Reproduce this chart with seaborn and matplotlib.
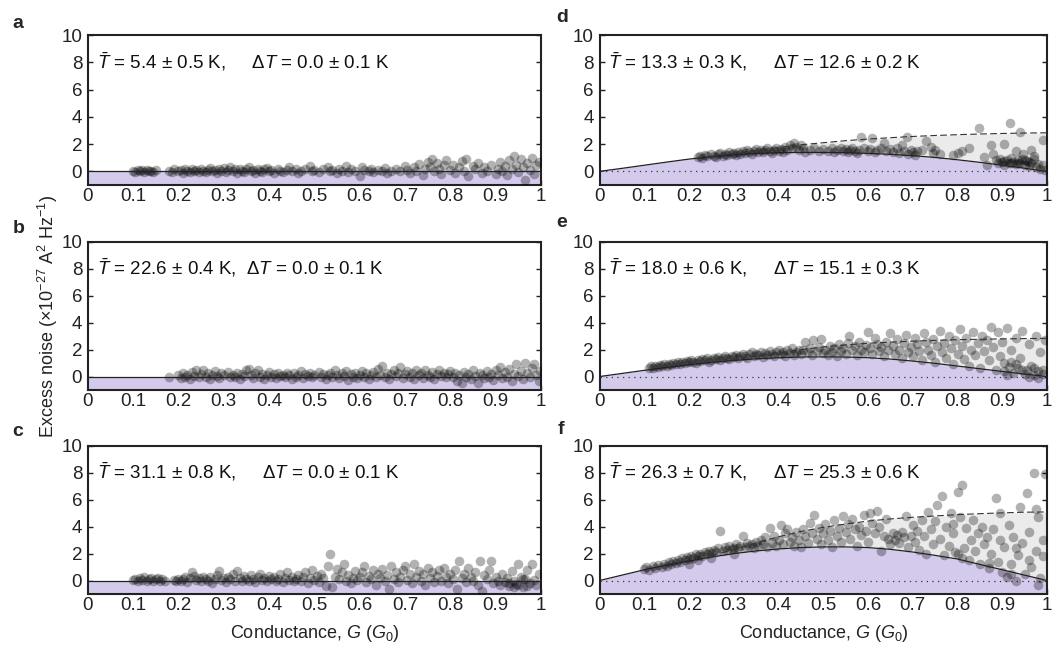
import matplotlib
matplotlib.use('Agg')
import numpy as np
import pandas as pd
import matplotlib.pyplot as plt
import seaborn as sns

# panel texts
panel_letters = ['a', 'b', 'c', 'd', 'e', 'f']
t_mean = ['5.4 ± 0.5', '22.6 ± 0.4', '31.1 ± 0.8', '13.3 ± 0.3', '18.0 ± 0.6', '26.3 ± 0.7']
t_delta = ['0.0 ± 0.1', '0.0 ± 0.1', '0.0 ± 0.1', '12.6 ± 0.2', '15.1 ± 0.3', '25.3 ± 0.6']
gap_spaces = [5, 2, 5, 5, 5, 5]

x_ticks = [0, 0.1, 0.2, 0.3, 0.4, 0.5, 0.6, 0.7, 0.8, 0.9, 1]
x_ticklabels = ['0', '0.1', '0.2', '0.3', '0.4', '0.5', '0.6', '0.7', '0.8', '0.9', '1']
y_ticks = [0, 2, 4, 6, 8, 10]

# model curves
g_flat = [0, 1]
flat_noise = [0, 0]
g_curve = [0, 0.05, 0.1, 0.15, 0.2, 0.25, 0.3, 0.35, 0.4, 0.45, 0.5,
           0.55, 0.6, 0.65, 0.7, 0.75, 0.8, 0.85, 0.9, 0.95, 1.0]
d_solid = [0, 0.22, 0.45, 0.68, 0.9, 1.08, 1.22, 1.32, 1.37, 1.39, 1.39,
           1.37, 1.32, 1.25, 1.15, 1.02, 0.85, 0.66, 0.45, 0.23, 0.0]
e_solid = [0, 0.23, 0.46, 0.68, 0.88, 1.05, 1.2, 1.32, 1.4, 1.45, 1.46,
           1.45, 1.4, 1.3, 1.15, 0.98, 0.78, 0.58, 0.38, 0.18, 0.0]
f_solid = [0, 0.4, 0.8, 1.15, 1.45, 1.75, 2.0, 2.2, 2.35, 2.45, 2.5,
           2.5, 2.45, 2.32, 2.12, 1.87, 1.6, 1.2, 0.8, 0.4, 0.0]
g_dash = [0.25, 0.3, 0.35, 0.4, 0.45, 0.5, 0.55, 0.6, 0.65, 0.7, 0.75, 0.8, 0.85, 0.9, 0.95, 1.0]
d_dash = [1.08, 1.3, 1.53, 1.75, 1.95, 2.1, 2.25, 2.37, 2.47, 2.56, 2.63, 2.69, 2.74, 2.78, 2.81, 2.83]
e_dash = [1.05, 1.25, 1.5, 1.75, 2.0, 2.2, 2.35, 2.47, 2.56, 2.63, 2.69, 2.74, 2.77, 2.8, 2.82, 2.84]
f_dash = [1.85, 2.3, 2.8, 3.25, 3.65, 3.95, 4.2, 4.42, 4.58, 4.7, 4.8, 4.9, 4.97, 5.03, 5.08, 5.1]

# measured points (conductance, excess noise)
a_pts = [(0.10, 0.05), (0.105, -0.05), (0.11, 0.1), (0.115, 0.0), (0.12, 0.08), (0.125, -0.02), (0.13, 0.12),
         (0.135, 0.02), (0.14, 0.06), (0.145, -0.05), (0.15, 0.1), (0.18, 0.05), (0.185, -0.08), (0.19, 0.15),
         (0.2, 0.0), (0.205, 0.1), (0.21, -0.1), (0.215, 0.2), (0.22, 0.05), (0.225, -0.05), (0.23, 0.15),
         (0.235, 0.02), (0.24, 0.1), (0.245, -0.08), (0.25, 0.2), (0.255, 0.05), (0.26, -0.02), (0.265, 0.12),
         (0.27, 0.25), (0.275, 0.0), (0.28, 0.1), (0.285, -0.1), (0.29, 0.18), (0.295, 0.05), (0.3, 0.25),
         (0.305, -0.05), (0.31, 0.1), (0.315, 0.3), (0.32, 0.0), (0.325, 0.15), (0.33, -0.1), (0.335, 0.2),
         (0.34, 0.05), (0.345, -0.05), (0.35, 0.15), (0.355, 0.3), (0.36, 0.0), (0.365, 0.1), (0.37, -0.15),
         (0.375, 0.2), (0.38, 0.05), (0.385, -0.05), (0.39, 0.15), (0.395, 0.25), (0.4, 0.0), (0.405, 0.1),
         (0.41, -0.1), (0.42, 0.2), (0.425, 0.05), (0.43, -0.05), (0.44, 0.12), (0.445, 0.3), (0.45, 0.0),
         (0.46, 0.15), (0.465, -0.1), (0.47, 0.05), (0.48, 0.2), (0.49, 0.4), (0.495, 0.0), (0.5, 0.1),
         (0.51, -0.05), (0.52, 0.15), (0.53, 0.35), (0.535, 0.0), (0.54, 0.1), (0.55, -0.1), (0.555, 0.2),
         (0.56, 0.05), (0.57, 0.4), (0.575, -0.05), (0.58, 0.15), (0.59, 0.0), (0.6, -0.35), (0.605, 0.3),
         (0.61, 0.1), (0.62, 0.0), (0.625, 0.2), (0.63, -0.05), (0.64, 0.1), (0.65, 0.0), (0.655, 0.25),
         (0.66, -0.1), (0.67, 0.05), (0.68, 0.15), (0.69, 0.0), (0.7, 0.4), (0.705, 0.1), (0.71, -0.15),
         (0.72, 0.3), (0.725, 0.0), (0.73, 0.55), (0.74, -0.25), (0.745, 0.15), (0.75, 0.7), (0.755, 0.3),
         (0.76, 0.9), (0.765, 0.0), (0.77, 0.6), (0.775, 0.2), (0.78, -0.2), (0.785, 0.45), (0.79, 0.8),
         (0.8, 0.1), (0.805, 0.5), (0.81, -0.1), (0.82, 0.3), (0.825, 0.75), (0.83, 0.0), (0.835, 0.9),
         (0.84, -0.35), (0.85, 0.4), (0.855, 0.15), (0.86, 0.6), (0.87, -0.1), (0.875, 0.3), (0.88, 0.05),
         (0.89, 0.5), (0.9, -0.2), (0.905, 0.2), (0.91, 0.7), (0.915, 0.0), (0.92, 0.4), (0.925, -0.3),
         (0.93, 0.8), (0.935, 0.15), (0.94, 1.1), (0.945, 0.5), (0.95, -0.05), (0.955, 0.9), (0.96, 0.3),
         (0.965, -0.65), (0.97, 0.6), (0.975, 0.1), (0.98, 1.0), (0.985, -0.2), (0.99, 0.45), (0.995, 0.7)]

b_pts = [(0.18, 0.0), (0.2, 0.1), (0.205, -0.1), (0.21, 0.25), (0.215, 0.0), (0.22, 0.15), (0.225, -0.2),
         (0.23, 0.35), (0.235, 0.05), (0.24, 0.5), (0.245, -0.05), (0.25, 0.2), (0.255, 0.45), (0.26, 0.0),
         (0.265, 0.3), (0.27, -0.15), (0.275, 0.15), (0.28, 0.4), (0.285, 0.05), (0.29, -0.1), (0.295, 0.25),
         (0.3, 0.1), (0.31, 0.35), (0.315, -0.05), (0.32, 0.15), (0.325, 0.0), (0.33, 0.3), (0.335, -0.2),
         (0.34, 0.2), (0.345, 0.05), (0.35, 0.45), (0.355, 0.55), (0.36, 0.1), (0.365, -0.1), (0.37, 0.3),
         (0.375, 0.5), (0.38, 0.0), (0.385, 0.2), (0.39, -0.15), (0.395, 0.1), (0.4, 0.35), (0.405, 0.0),
         (0.41, 0.2), (0.415, -0.1), (0.42, 0.3), (0.425, 0.05), (0.43, 0.15), (0.435, -0.05), (0.44, 0.25),
         (0.445, 0.1), (0.45, -0.2), (0.455, 0.3), (0.46, 0.0), (0.465, 0.15), (0.47, 0.4), (0.475, -0.1),
         (0.48, 0.2), (0.485, 0.05), (0.49, 0.3), (0.495, -0.05), (0.5, 0.15), (0.51, 0.35), (0.515, 0.0),
         (0.52, 0.2), (0.525, -0.15), (0.53, 0.1), (0.535, 0.3), (0.54, 0.0), (0.545, 0.45), (0.55, 0.15),
         (0.555, -0.1), (0.56, 0.25), (0.565, 0.05), (0.57, 0.4), (0.575, -0.25), (0.58, 0.2), (0.585, 0.0),
         (0.59, 0.3), (0.595, -0.1), (0.6, 0.15), (0.605, 0.4), (0.61, 0.0), (0.615, 0.25), (0.62, -0.2),
         (0.625, 0.1), (0.63, 0.35), (0.635, -0.05), (0.64, 0.55), (0.645, 0.15), (0.65, 0.8), (0.655, 0.0),
         (0.66, 0.3), (0.665, -0.15), (0.67, 0.2), (0.675, 0.45), (0.68, 0.05), (0.685, 0.3), (0.69, 0.7),
         (0.695, -0.1), (0.7, 0.2), (0.705, 0.4), (0.71, 0.0), (0.715, 0.25), (0.72, -0.2), (0.725, 0.5),
         (0.73, 0.1), (0.735, 0.3), (0.74, -0.1), (0.745, 0.45), (0.75, 0.15), (0.755, 0.0), (0.76, 0.35),
         (0.765, -0.15), (0.77, 0.2), (0.775, 0.5), (0.78, 0.05), (0.785, 0.3), (0.79, -0.05), (0.795, 0.2),
         (0.8, 0.4), (0.805, 0.0), (0.81, 0.25), (0.815, -0.3), (0.82, 0.1), (0.825, -0.45), (0.83, 0.35),
         (0.835, 0.0), (0.84, 0.2), (0.845, -0.2), (0.85, 0.45), (0.855, 0.05), (0.86, -0.5), (0.865, 0.3),
         (0.87, 0.1), (0.875, -0.1), (0.88, 0.4), (0.885, 0.0), (0.89, 0.2), (0.895, -0.25), (0.9, 0.5),
         (0.905, 0.1), (0.91, 0.7), (0.915, -0.1), (0.92, 0.35), (0.925, 0.0), (0.93, 0.55), (0.935, -0.3),
         (0.94, 0.2), (0.945, 0.9), (0.95, 0.05), (0.955, 0.4), (0.96, -0.2), (0.965, 1.0), (0.97, 0.25),
         (0.975, -0.05), (0.98, 0.6), (0.985, 0.9), (0.99, 0.1), (0.995, -0.3), (0.998, 0.4)]

c_pts = [(0.1, 0.05), (0.105, 0.15), (0.11, -0.05), (0.115, 0.2), (0.12, 0.05), (0.125, 0.25), (0.13, 0.0),
         (0.135, 0.1), (0.14, 0.2), (0.145, -0.05), (0.15, 0.1), (0.155, 0.2), (0.16, 0.0), (0.165, 0.1),
         (0.17, -0.05), (0.19, 0.05), (0.195, -0.05), (0.2, 0.15), (0.205, 0.0), (0.21, 0.1), (0.215, 0.25),
         (0.22, -0.1), (0.225, 0.2), (0.23, 0.6), (0.235, 0.35), (0.24, 0.05), (0.245, 0.2), (0.25, -0.05),
         (0.255, 0.3), (0.26, 0.1), (0.265, 0.0), (0.27, 0.25), (0.275, -0.15), (0.28, 0.15), (0.285, 0.4),
         (0.29, 0.7), (0.295, 0.05), (0.3, 0.2), (0.305, -0.1), (0.31, 0.3), (0.315, 0.1), (0.32, 0.45),
         (0.325, 0.0), (0.33, 0.7), (0.335, 0.2), (0.34, -0.05), (0.345, 0.35), (0.35, 0.1), (0.355, 0.0),
         (0.36, 0.4), (0.365, 0.15), (0.37, -0.1), (0.375, 0.3), (0.38, 0.5), (0.385, 0.05), (0.39, 0.2),
         (0.395, -0.05), (0.4, 0.35), (0.405, 0.1), (0.41, 0.25), (0.415, 0.0), (0.42, 0.15), (0.425, 0.45),
         (0.43, -0.1), (0.435, 0.2), (0.44, 0.6), (0.445, 0.05), (0.45, 0.3), (0.455, -0.05), (0.46, 0.15),
         (0.465, 0.4), (0.47, 0.0), (0.475, 0.25), (0.48, 0.6), (0.485, -0.15), (0.49, 0.2), (0.495, 0.8),
         (0.5, 0.05), (0.505, 0.35), (0.51, -0.1), (0.515, 0.5), (0.52, 0.2), (0.525, -0.4), (0.53, 1.05),
         (0.535, 1.95), (0.54, -0.5), (0.545, 0.3), (0.55, 0.85), (0.555, 0.1), (0.56, 0.6), (0.565, 1.2),
         (0.57, 0.0), (0.575, 0.4), (0.58, -0.2), (0.585, 0.2), (0.59, 0.7), (0.595, 0.05), (0.6, 0.3),
         (0.605, 0.6), (0.61, 1.05), (0.615, -0.1), (0.62, 0.35), (0.625, 0.1), (0.63, 0.8), (0.635, -0.3),
         (0.64, 0.5), (0.645, 0.2), (0.65, 0.85), (0.655, 0.0), (0.66, 0.4), (0.665, -0.6), (0.67, 1.05),
         (0.675, 0.15), (0.68, 0.6), (0.685, -0.1), (0.69, 0.3), (0.695, 0.8), (0.7, 1.05), (0.705, 0.05),
         (0.71, 0.5), (0.715, -0.2), (0.72, 1.2), (0.725, 0.3), (0.73, 0.7), (0.735, 0.0), (0.74, 0.45),
         (0.745, -0.3), (0.75, 0.9), (0.755, 0.2), (0.76, 0.6), (0.765, -0.1), (0.77, 0.35), (0.775, 0.75),
         (0.78, 0.0), (0.785, 0.95), (0.79, 0.3), (0.795, -0.2), (0.8, 0.5), (0.805, 0.1), (0.81, 0.8),
         (0.815, -0.6), (0.82, 1.45), (0.825, 0.2), (0.83, 0.5), (0.835, -0.1), (0.84, 0.9), (0.845, 0.3),
         (0.85, 0.0), (0.855, 0.6), (0.86, -0.3), (0.865, 1.45), (0.87, -0.75), (0.875, 0.4), (0.88, 0.1),
         (0.885, 0.8), (0.89, 1.45), (0.895, -0.2), (0.9, 0.3), (0.905, 0.0), (0.91, -0.3), (0.915, 0.5),
         (0.92, -0.1), (0.925, 0.2), (0.93, -0.4), (0.935, 0.7), (0.94, 0.0), (0.945, -0.25), (0.95, 1.2),
         (0.955, 0.3), (0.96, -0.5), (0.965, 0.1), (0.97, 0.8), (0.975, -0.2), (0.98, 1.2), (0.985, 0.05),
         (0.99, -0.35), (0.995, 0.5), (0.93, -0.15), (0.95, -0.3), (0.97, -0.4), (0.96, 0.15), (0.94, -0.5)]

d_pts = [(0.22, 1.05), (0.225, 1.15), (0.23, 1.0), (0.235, 1.2), (0.24, 1.1), (0.25, 1.3), (0.255, 1.15),
         (0.26, 1.05), (0.265, 1.25), (0.27, 1.35), (0.275, 1.15), (0.28, 1.3), (0.285, 1.2), (0.29, 1.4),
         (0.295, 1.25), (0.3, 1.35), (0.305, 1.2), (0.31, 1.45), (0.315, 1.3), (0.32, 1.5), (0.325, 1.35),
         (0.33, 1.55), (0.335, 1.4), (0.34, 1.3), (0.345, 1.5), (0.35, 1.65), (0.355, 1.45), (0.36, 1.6),
         (0.365, 1.4), (0.37, 1.55), (0.375, 1.7), (0.38, 1.5), (0.385, 1.35), (0.39, 1.6), (0.395, 1.75),
         (0.4, 1.5), (0.405, 1.65), (0.41, 1.4), (0.415, 1.8), (0.42, 1.6), (0.425, 1.95), (0.43, 1.7),
         (0.435, 2.05), (0.44, 1.8), (0.445, 1.55), (0.45, 1.9), (0.455, 1.7), (0.46, 1.45), (0.47, 1.6),
         (0.48, 1.75), (0.49, 1.5), (0.5, 1.65), (0.51, 1.5), (0.52, 1.7), (0.525, 1.4), (0.53, 1.6),
         (0.54, 1.75), (0.545, 1.5), (0.55, 1.65), (0.555, 1.4), (0.56, 1.55), (0.565, 1.75), (0.57, 1.5),
         (0.575, 1.35), (0.58, 1.6), (0.585, 2.55), (0.59, 1.7), (0.6, 1.5), (0.605, 1.65), (0.61, 2.45),
         (0.615, 1.45), (0.62, 1.6), (0.63, 1.75), (0.636, 2.05), (0.64, 1.5), (0.65, 1.65), (0.655, 1.4),
         (0.665, 1.7), (0.67, 1.35), (0.675, 1.9), (0.68, 1.5), (0.687, 2.55), (0.69, 1.3), (0.695, 1.6),
         (0.7, 1.4), (0.705, 1.2), (0.71, 1.5), (0.72, 1.55), (0.73, 2.2), (0.74, 1.8), (0.745, 1.35),
         (0.75, 1.6), (0.76, 1.25), (0.79, 1.2), (0.8, 1.35), (0.81, 1.5), (0.825, 1.7), (0.848, 3.2),
         (0.86, 1.05), (0.866, 0.45), (0.875, 1.9), (0.88, 1.3), (0.885, 0.8), (0.89, 0.6), (0.895, 0.9),
         (0.9, 0.7), (0.905, 0.5), (0.91, 0.85), (0.915, 0.65), (0.92, 0.95), (0.925, 0.7), (0.93, 0.55),
         (0.935, 0.8), (0.94, 0.6), (0.945, 0.9), (0.95, 0.5), (0.955, 0.75), (0.96, 0.4), (0.965, 0.65),
         (0.97, 0.9), (0.975, 0.3), (0.98, 0.55), (0.985, 0.2), (0.99, 0.45), (0.995, 0.1), (0.918, 3.55),
         (0.94, 2.9), (0.965, 1.6), (0.947, 1.3), (0.97, 1.15), (0.905, 2.0), (0.93, 1.5), (0.99, 2.3),
         (0.905, 0.75), (0.92, 0.6), (0.935, 0.65), (0.95, 0.8), (0.96, 0.7)]

e_pts = [(0.11, 0.6), (0.115, 0.75), (0.12, 0.65), (0.125, 0.8), (0.13, 0.7), (0.135, 0.85), (0.14, 0.75),
         (0.145, 0.9), (0.15, 0.8), (0.155, 0.95), (0.16, 0.85), (0.165, 1.0), (0.17, 0.9), (0.175, 1.05),
         (0.18, 0.95), (0.185, 1.1), (0.19, 1.0), (0.195, 1.15), (0.2, 1.05), (0.205, 1.2), (0.21, 1.1),
         (0.215, 1.0), (0.22, 1.25), (0.225, 1.15), (0.23, 1.3), (0.235, 1.2), (0.24, 1.35), (0.245, 1.1),
         (0.25, 1.25), (0.255, 1.4), (0.26, 1.3), (0.265, 1.45), (0.27, 1.2), (0.275, 1.35), (0.28, 1.5),
         (0.285, 1.4), (0.29, 1.3), (0.295, 1.55), (0.3, 1.45), (0.305, 1.6), (0.31, 1.35), (0.315, 1.5),
         (0.32, 1.7), (0.325, 1.55), (0.33, 1.4), (0.335, 1.65), (0.34, 1.8), (0.345, 1.5), (0.35, 1.7),
         (0.355, 1.6), (0.36, 1.85), (0.365, 1.45), (0.37, 1.75), (0.375, 1.6), (0.38, 1.9), (0.385, 1.7),
         (0.39, 1.5), (0.395, 1.8), (0.4, 2.0), (0.405, 1.65), (0.41, 1.85), (0.415, 1.55), (0.42, 1.95),
         (0.425, 1.75), (0.43, 2.1), (0.435, 1.6), (0.44, 1.85), (0.445, 2.0), (0.45, 1.7), (0.455, 1.95),
         (0.46, 2.6), (0.465, 1.8), (0.47, 2.1), (0.475, 1.6), (0.478, 2.75), (0.485, 1.9), (0.49, 2.2),
         (0.496, 2.8), (0.5, 1.75), (0.505, 2.0), (0.51, 1.6), (0.515, 2.3), (0.52, 1.85), (0.525, 2.1),
         (0.53, 1.5), (0.535, 2.4), (0.54, 1.9), (0.545, 2.15), (0.55, 1.7), (0.555, 2.5), (0.558, 3.0),
         (0.565, 1.95), (0.57, 2.3), (0.575, 1.6), (0.58, 2.6), (0.585, 2.0), (0.59, 1.8), (0.595, 2.35),
         (0.6, 3.3), (0.605, 2.1), (0.61, 1.65), (0.615, 2.9), (0.62, 2.4), (0.625, 1.9), (0.63, 2.2),
         (0.635, 1.5), (0.64, 2.6), (0.645, 2.0), (0.65, 3.2), (0.655, 2.3), (0.66, 1.7), (0.665, 2.8),
         (0.67, 2.0), (0.675, 1.4), (0.68, 2.5), (0.685, 3.1), (0.69, 1.8), (0.695, 2.2), (0.7, 1.5),
         (0.705, 2.9), (0.71, 2.4), (0.715, 1.9), (0.72, 1.2), (0.725, 3.2), (0.73, 2.6), (0.735, 2.0),
         (0.74, 1.6), (0.745, 2.8), (0.75, 1.1), (0.755, 2.3), (0.76, 3.4), (0.765, 1.8), (0.77, 2.5),
         (0.775, 1.4), (0.78, 3.0), (0.785, 2.1), (0.79, 0.9), (0.795, 2.7), (0.8, 1.7), (0.805, 3.5),
         (0.81, 2.3), (0.815, 1.3), (0.82, 2.9), (0.825, 0.8), (0.83, 2.0), (0.835, 3.3), (0.84, 1.6),
         (0.845, 2.5), (0.85, 0.6), (0.855, 3.0), (0.86, 1.9), (0.865, 2.7), (0.87, 1.2), (0.875, 3.7),
         (0.88, 2.2), (0.885, 0.5), (0.89, 3.3), (0.895, 1.5), (0.9, 2.6), (0.905, 0.4), (0.91, 3.6),
         (0.915, 0.7), (0.92, 2.0), (0.925, 0.3), (0.93, 2.9), (0.935, 0.6), (0.94, 1.4), (0.945, 3.4),
         (0.95, 0.2), (0.955, 0.5), (0.96, 2.4), (0.965, 0.8), (0.97, 0.1), (0.975, 3.0), (0.98, 0.4),
         (0.985, 1.8), (0.99, 0.2), (0.995, 2.7), (0.96, 0.0), (0.97, 0.6), (0.98, -0.1), (0.99, 0.5),
         (0.93, 0.9), (0.945, 0.45), (0.92, 1.1), (0.905, 1.0), (0.91, 0.1)]

f_pts = [(0.1, 0.85), (0.105, 1.0), (0.11, 0.75), (0.12, 1.05), (0.125, 0.9), (0.13, 1.15), (0.14, 1.0),
         (0.145, 1.25), (0.15, 1.1), (0.155, 1.35), (0.16, 1.2), (0.165, 1.45), (0.17, 1.3), (0.175, 1.55),
         (0.18, 1.4), (0.185, 1.65), (0.19, 1.5), (0.195, 1.75), (0.2, 1.6), (0.205, 1.85), (0.21, 1.7),
         (0.215, 1.95), (0.22, 1.8), (0.225, 2.0), (0.23, 1.85), (0.235, 2.1), (0.24, 1.95), (0.245, 2.2),
         (0.25, 2.05), (0.255, 2.3), (0.26, 2.1), (0.265, 2.4), (0.27, 3.7), (0.275, 2.2), (0.28, 2.5),
         (0.285, 2.3), (0.29, 2.6), (0.295, 2.35), (0.3, 2.45), (0.305, 2.7), (0.31, 2.4), (0.315, 2.6),
         (0.32, 3.3), (0.325, 2.5), (0.33, 2.8), (0.335, 2.55), (0.34, 2.7), (0.345, 2.45), (0.35, 2.9),
         (0.355, 2.6), (0.36, 3.0), (0.2, 1.25), (0.25, 1.7), (0.3, 2.0), (0.22, 1.5), (0.365, 2.7),
         (0.37, 3.2), (0.375, 2.5), (0.38, 3.9), (0.385, 2.8), (0.39, 3.3), (0.395, 2.6), (0.4, 3.0),
         (0.405, 4.1), (0.41, 2.7), (0.415, 3.5), (0.42, 3.85), (0.425, 2.9), (0.43, 3.2), (0.435, 2.6),
         (0.44, 3.6), (0.445, 3.0), (0.45, 2.5), (0.455, 3.8), (0.46, 3.3), (0.465, 2.8), (0.47, 4.3),
         (0.475, 3.5), (0.48, 4.9), (0.485, 3.1), (0.49, 3.9), (0.495, 2.7), (0.5, 3.5), (0.505, 4.2),
         (0.51, 3.0), (0.515, 3.7), (0.52, 2.5), (0.525, 4.5), (0.53, 3.3), (0.535, 3.9), (0.54, 2.9),
         (0.545, 4.8), (0.55, 3.6), (0.555, 4.2), (0.56, 3.1), (0.565, 4.6), (0.57, 3.8), (0.575, 2.6),
         (0.58, 4.0), (0.585, 3.4), (0.59, 4.9), (0.595, 3.7), (0.6, 2.9), (0.605, 5.05), (0.61, 4.3),
         (0.615, 3.5), (0.62, 5.2), (0.625, 4.0), (0.63, 2.2), (0.635, 3.3), (0.64, 4.6), (0.645, 3.1),
         (0.65, 2.7), (0.655, 3.5), (0.66, 3.0), (0.665, 3.4), (0.67, 2.8), (0.675, 3.6), (0.68, 3.2),
         (0.685, 4.8), (0.69, 2.5), (0.695, 3.3), (0.7, 4.1), (0.705, 2.9), (0.71, 3.7), (0.715, 2.3),
         (0.72, 4.5), (0.725, 3.3), (0.73, 2.0), (0.735, 5.1), (0.74, 3.8), (0.745, 2.7), (0.75, 4.4),
         (0.755, 5.6), (0.76, 3.1), (0.765, 6.25), (0.77, 1.9), (0.775, 4.0), (0.78, 2.6), (0.785, 5.0),
         (0.79, 3.5), (0.795, 2.1), (0.8, 6.6), (0.805, 4.7), (0.81, 7.1), (0.815, 2.4), (0.82, 3.9),
         (0.8, 2.0), (0.81, 1.7), (0.79, 4.2), (0.825, 1.5), (0.83, 3.0), (0.835, 4.5), (0.84, 2.2),
         (0.845, 3.5), (0.85, 1.2), (0.855, 4.0), (0.86, 2.7), (0.865, 3.2), (0.87, 0.9), (0.875, 2.0),
         (0.88, 3.8), (0.885, 6.1), (0.89, 1.4), (0.895, 3.0), (0.9, 0.6), (0.895, 5.0), (0.87, 1.3),
         (0.905, 2.5), (0.91, 0.3), (0.915, 4.1), (0.92, 1.2), (0.925, 3.2), (0.93, 0.0), (0.935, 1.9),
         (0.94, 5.5), (0.945, 2.8), (0.95, 0.5), (0.955, 6.5), (0.96, 3.6), (0.965, 1.0), (0.97, 8.0),
         (0.975, 2.2), (0.98, 4.7), (0.985, 0.2), (0.99, 3.0), (0.995, 7.9), (0.93, 2.4), (0.96, 1.5),
         (0.975, 5.3), (0.99, 1.8), (0.92, 0.5), (0.98, -0.3)]

sns.set_theme(style='ticks')
plt.rcParams['font.family'] = ['Liberation Sans', 'DejaVu Sans']
plt.rcParams['mathtext.fontset'] = 'custom'
plt.rcParams['mathtext.rm'] = 'Liberation Sans'
plt.rcParams['mathtext.it'] = 'Liberation Sans:italic'
plt.rcParams['mathtext.bf'] = 'Liberation Sans:bold'

purple = '#d4caec'
grey_fill = '#ebebeb'

fig = plt.figure(figsize=(10.55, 6.47), dpi=100)
W, H = 1055, 647
col_left = [87.7, 599.5]
col_width = [453.3, 447.5]
row_top = [35, 242, 446]
row_bottom = [185, 390, 594]

all_pts = [a_pts, b_pts, c_pts, d_pts, e_pts, f_pts]
solids = [None, None, None, d_solid, e_solid, f_solid]
dashes = [None, None, None, d_dash, e_dash, f_dash]
letter_pos = [(18, 23), (19, 229), (18, 432), (562, 17), (562, 222), (561, 429)]

for i in range(6):
    col, row = i // 3, i % 3
    rect = [col_left[col] / W, 1 - row_bottom[row] / H,
            col_width[col] / W, (row_bottom[row] - row_top[row]) / H]
    ax = fig.add_axes(rect)
    pts = pd.DataFrame(all_pts[i], columns=['G', 'noise'])

    if solids[i] is None:
        ax.fill_between(g_flat, -1, flat_noise, color=purple, lw=0, zorder=1)
        line_g, line_y = g_flat, flat_noise
    else:
        ax.fill_between(g_curve, -1, solids[i], color=purple, lw=0, zorder=1)
        lower = np.array(solids[i])[-len(g_dash):]
        ax.fill_between(g_dash, lower, dashes[i], color=grey_fill, lw=0, zorder=1)
        ax.plot([0, 1], [0, 0], color='#333333', lw=0.9, ls=(0, (1, 3.5)), zorder=2)
        line_g, line_y = g_curve, solids[i]

    sns.scatterplot(data=pts, x='G', y='noise', ax=ax, color='black', alpha=0.3,
                    s=48, linewidth=0, zorder=3, legend=False)

    ax.plot(line_g, line_y, color='#222222', lw=0.9, zorder=4)
    if dashes[i] is not None:
        ax.plot(g_dash, dashes[i], color='#333333', lw=0.8, dashes=(6, 3), zorder=4)

    ax.set_xlim(0, 1)
    ax.set_ylim(-1, 10)
    ax.set_xticks(x_ticks)
    ax.set_xticklabels(x_ticklabels)
    ax.set_yticks(y_ticks)
    ax.set_xlabel('')
    ax.set_ylabel('')
    ax.tick_params(axis='both', direction='in', length=3.5, width=1.0, labelsize=13.5,
                   color='#222222', labelcolor='#222222')
    ax.tick_params(axis='x', pad=2)
    ax.tick_params(axis='y', pad=4, right=True)
    for sp in ax.spines.values():
        sp.set_linewidth(1.5)
        sp.set_color('#222222')
        sp.set_visible(True)

    label = (r'$\bar{T}$ = ' + t_mean[i] + ' K,' + ' ' * gap_spaces[i] +
             'Δ$T$ = ' + t_delta[i] + ' K')
    ax.text(0.02, 7.55, label, transform=ax.get_yaxis_transform(), fontsize=13.5,
            ha='left', va='baseline', color='#111111')

    if row == 2:
        ax.set_xlabel(r'Conductance, $G$ ($G_0$)', fontsize=13, labelpad=7, color='#222222')

    lx, ly = letter_pos[i]
    fig.text(lx / W, 1 - ly / H, panel_letters[i], fontsize=14, fontweight='bold',
             ha='center', va='center')

fig.text(48 / W, 1 - 316 / H, r'Excess noise ($\times$10$^{-27}$ A$^2$ Hz$^{-1}$)',
         rotation=90, fontsize=13, ha='center', va='center', color='#222222')

fig.savefig('out.png', dpi=100)
